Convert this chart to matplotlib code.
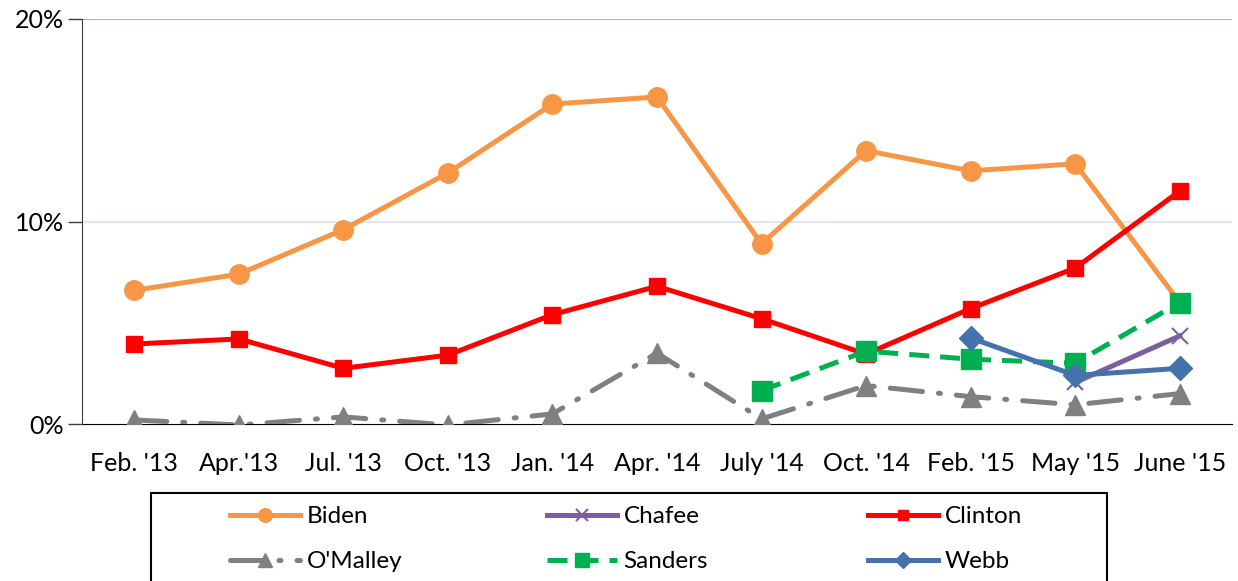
import matplotlib
matplotlib.use('Agg')
import matplotlib.pyplot as plt
from matplotlib.patches import Rectangle
import numpy as np

nan = np.nan

# data (percent)
dates = ["Feb. '13", "Apr.'13", "Jul. '13", "Oct. '13", "Jan. '14", "Apr. '14",
         "July '14", "Oct. '14", "Feb. '15", "May '15", "June '15"]
biden = [6.6, 7.4, 9.6, 12.4, 15.8, 16.15, 8.9, 13.5, 12.5, 12.85, 6.0]
chafee = [nan, nan, nan, nan, nan, nan, nan, nan, nan, 2.05, 4.35]
clinton = [3.95, 4.2, 2.75, 3.4, 5.4, 6.8, 5.2, 3.45, 5.7, 7.7, 11.5]
omalley = [0.2, -0.05, 0.35, -0.05, 0.5, 3.5, 0.25, 1.9, 1.35, 0.95, 1.5]
sanders = [nan, nan, nan, nan, nan, nan, 1.65, 3.6, 3.2, 3.0, 6.0]
webb = [nan, nan, nan, nan, nan, nan, nan, nan, 4.25, 2.4, 2.75]

plt.rcParams['font.family'] = ['Lato', 'DejaVu Sans']

W, H = 1238, 581
fig = plt.figure(figsize=(W / 100, H / 100), dpi=100)
ax = fig.add_axes([82 / W, 1 - 424 / H, (1232 - 82) / W, (424 - 19) / H])

x = np.arange(len(dates))
lw = 3.6

ax.plot(x, biden, color='#F79646', lw=lw, marker='o', ms=14, label='Biden', zorder=3)
ax.plot(x, chafee, color='#7B5F9E', lw=lw, marker='x', ms=12, mew=1.5, label='Chafee', zorder=4)
ax.plot(x, clinton, color='#FF0000', lw=lw, marker='s', ms=11, label='Clinton', zorder=3)
ax.plot(x, omalley, color='#808080', lw=lw, marker='^', ms=14, label="O'Malley",
        linestyle=(0, (6.5, 3.2, 0.4, 3.2)), dash_capstyle='round', zorder=3)
ax.plot(x, sanders, color='#00B050', lw=lw, marker='s', ms=14, label='Sanders',
        linestyle=(0, (4, 2.2)), zorder=3)
ax.plot(x, webb, color='#4672AC', lw=lw, marker='D', ms=12, label='Webb', zorder=4)

ax.set_xlim(-0.5, len(dates) - 0.5)
ax.set_ylim(0, 20)
ax.set_yticks([0, 10, 20])
ax.set_yticklabels(['0%', '10%', '20%'])
ax.set_xticks(x)
ax.set_xticklabels(dates)
ax.tick_params(axis='x', length=0, pad=20, labelsize=18)
ax.tick_params(axis='y', length=10, width=1, color='#404040', pad=3, labelsize=18)

ax.axhline(10, color='#DCE6F5', lw=1.5, zorder=1)
ax.axhline(20, color='#9BB4E6', lw=1.5, zorder=1)

for s in ['top', 'right']:
    ax.spines[s].set_visible(False)
ax.spines['left'].set_color('#404040')
ax.spines['bottom'].set_color('black')
ax.spines['bottom'].set_zorder(2)

# legend: frame + three single-column legends
fig.patches.append(Rectangle((151 / W, -0.1), (1107 - 151) / W, 0.1 + 1 - 493 / H,
                             transform=fig.transFigure, fill=False,
                             edgecolor='black', lw=1.5))
h, l = ax.get_legend_handles_labels()
col_x = [230, 547, 868]
for c in range(3):
    idx = [c, c + 3]
    fig.legend([h[i] for i in idx], [l[i] for i in idx], loc='upper left',
               bbox_to_anchor=(col_x[c] / W, 1 - 506 / H), frameon=False,
               fontsize=17.5, handlelength=2.9, handletextpad=0.25,
               borderpad=0, borderaxespad=0, labelspacing=1.0, markerscale=0.7)

plt.savefig('out.png', dpi=100)
